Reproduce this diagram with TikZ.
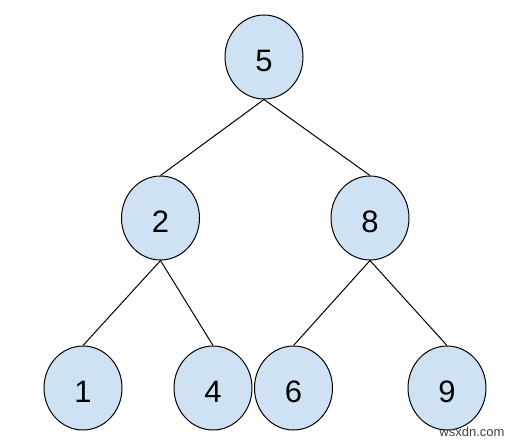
\documentclass[tikz,border=0pt]{standalone}
\usepackage{fontspec}
\setmainfont{Liberation Sans}
\usetikzlibrary{shapes.geometric}
\definecolor{nodefill}{HTML}{CFE2F3}
\begin{document}
\begin{tikzpicture}[x=1pt,y=-1pt,
  tnode/.style={ellipse,draw=black,line width=1pt,fill=nodefill,minimum width=78pt,minimum height=84pt,inner sep=0pt,font=\fontsize{31}{31}\selectfont,text height=29pt,text depth=0pt},
  edge/.style={draw=black,line width=1pt}]
\useasboundingbox (0,0) rectangle (516,441);
\node[tnode] (n5) at (264,57) {5};
\node[tnode] (n2) at (160.5,218) {2};
\node[tnode] (n8) at (370,218) {8};
\node[tnode] (n1) at (83,388) {1};
\node[tnode] (n4) at (213,388) {4};
\node[tnode] (n6) at (293.5,388) {6};
\node[tnode] (n9) at (447,388) {9};
\draw[edge] (n5.south) -- (n2.north);
\draw[edge] (n5.south) -- (n8.north);
\draw[edge] (n2.south) -- (n1.north);
\draw[edge] (n2.south) -- (n4.north);
\draw[edge] (n8.south) -- (n6.north);
\draw[edge] (n8.south) -- (n9.north);
\node[text=black!75,font=\fontsize{13}{13}\selectfont,anchor=center] (wm) at (472,432) {wsxdn.com};
\end{tikzpicture}
\end{document}
